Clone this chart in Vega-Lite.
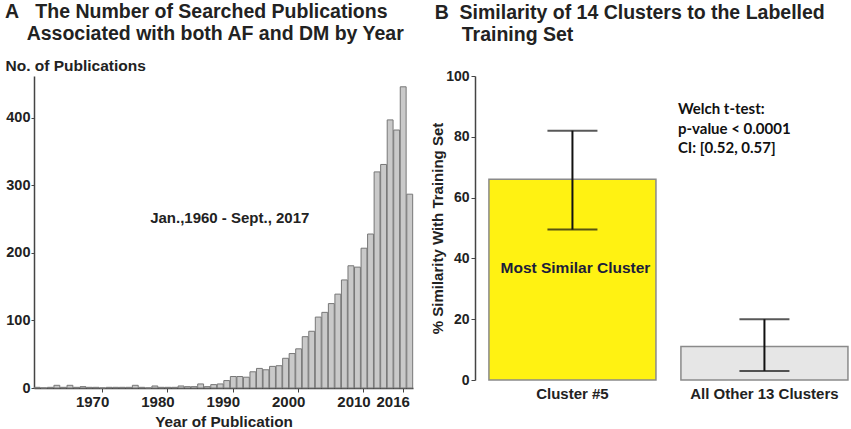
{
  "$schema": "https://vega.github.io/schema/vega-lite/v6.json",
  "padding": {"left": 5, "top": 2, "right": 2, "bottom": 2},
  "background": "white",
  "spacing": 16,
  "config": {
    "font": "Liberation Sans",
    "view": {"stroke": null},
    "axis": {"grid": false, "labelFont": "Liberation Sans", "titleFont": "Liberation Sans", "labelFontWeight": "bold", "labelColor": "#222222", "titleColor": "#222222", "titleFontWeight": "bold", "domainColor": "#444444", "tickColor": "#444444", "domainWidth": 1.5},
    "title": {"font": "Liberation Sans", "fontWeight": "bold", "color": "#222222", "anchor": "start", "fontSize": 19.5, "lineHeight": 21.5}
  },
  "hconcat": [
    {
      "width": 379,
      "height": 312,
      "title": {"text": ["A\u00a0\u00a0\u00a0The Number of Searched Publications", "\u200b\u00a0\u00a0\u00a0\u00a0Associated with both AF and DM by Year"], "frame": "bounds", "offset": 14},
      "layer": [
        {
          "data": {"values": [
            {"year": 1960, "count": 1}, {"year": 1961, "count": 0}, {"year": 1962, "count": 1}, {"year": 1963, "count": 4},
            {"year": 1964, "count": 1}, {"year": 1965, "count": 4}, {"year": 1966, "count": 1}, {"year": 1967, "count": 2},
            {"year": 1968, "count": 1}, {"year": 1969, "count": 1}, {"year": 1970, "count": 0}, {"year": 1971, "count": 1},
            {"year": 1972, "count": 1}, {"year": 1973, "count": 1}, {"year": 1974, "count": 1}, {"year": 1975, "count": 4},
            {"year": 1976, "count": 1}, {"year": 1977, "count": 0}, {"year": 1978, "count": 3}, {"year": 1979, "count": 1},
            {"year": 1980, "count": 1}, {"year": 1981, "count": 1}, {"year": 1982, "count": 3}, {"year": 1983, "count": 2},
            {"year": 1984, "count": 2}, {"year": 1985, "count": 6}, {"year": 1986, "count": 2}, {"year": 1987, "count": 5},
            {"year": 1988, "count": 6}, {"year": 1989, "count": 11}, {"year": 1990, "count": 17}, {"year": 1991, "count": 17},
            {"year": 1992, "count": 16}, {"year": 1993, "count": 24}, {"year": 1994, "count": 29}, {"year": 1995, "count": 27},
            {"year": 1996, "count": 32}, {"year": 1997, "count": 33}, {"year": 1998, "count": 44}, {"year": 1999, "count": 51},
            {"year": 2000, "count": 58}, {"year": 2001, "count": 76}, {"year": 2002, "count": 84}, {"year": 2003, "count": 105},
            {"year": 2004, "count": 112}, {"year": 2005, "count": 125}, {"year": 2006, "count": 139}, {"year": 2007, "count": 160},
            {"year": 2008, "count": 181}, {"year": 2009, "count": 179}, {"year": 2010, "count": 207}, {"year": 2011, "count": 228},
            {"year": 2012, "count": 320}, {"year": 2013, "count": 331}, {"year": 2014, "count": 397}, {"year": 2015, "count": 382},
            {"year": 2016, "count": 446}, {"year": 2017, "count": 287}
          ]},
          "mark": {"type": "bar", "fill": "#c9c9c9", "stroke": "#777777", "strokeWidth": 1},
          "encoding": {
            "x": {"field": "year", "type": "ordinal", "scale": {"paddingInner": 0.1, "paddingOuter": 0.05},
              "axis": {"title": "Year of Publication", "titleFontSize": 15.3, "labelFontSize": 15, "values": [1970, 1980, 1990, 2000, 2010, 2016], "labelAngle": 0, "tickSize": 4, "labelPadding": 2, "labelOffset": -10, "titlePadding": 5}},
            "y": {"field": "count", "type": "quantitative", "scale": {"domain": [0, 462], "nice": false},
              "axis": {"title": "No. of Publications", "titleAngle": 0, "titleAlign": "left", "titleBaseline": "middle", "titleX": -29, "titleY": -11, "titleFontSize": 15.5, "labelFontSize": 14.5, "values": [0, 100, 200, 300, 400], "tickSize": 3, "labelPadding": 1}}
          }
        },
        {
          "data": {"values": [{"year": 1989, "count": 252, "label": "Jan.,1960 - Sept., 2017"}]},
          "mark": {"type": "text", "fontWeight": "bold", "fontSize": 15, "color": "#222222", "dx": 3},
          "encoding": {
            "x": {"field": "year", "type": "ordinal"},
            "y": {"field": "count", "type": "quantitative"},
            "text": {"field": "label"}
          }
        }
      ]
    },
    {
      "width": 374,
      "height": 304,
      "title": {"text": ["B\u00a0\u00a0Similarity of 14 Clusters to the Labelled", "\u200b\u00a0\u00a0\u00a0\u00a0\u00a0Training Set"], "frame": "bounds", "offset": 24, "dx": 4},
      "encoding": {
        "x": {"field": "cluster", "type": "nominal", "sort": ["Cluster #5", "All Other 13 Clusters"], "scale": {"paddingInner": 0.13, "paddingOuter": 0.039, "align": 0.93},
          "axis": {"title": null, "labelAngle": 0, "domain": false, "ticks": false, "labelFontSize": 15, "labelPadding": 6}}
      },
      "layer": [
        {
          "data": {"name": "clusters", "values": [
            {"cluster": "Cluster #5", "mean": 66, "lo": 49.5, "hi": 82},
            {"cluster": "All Other 13 Clusters", "mean": 11, "lo": 3, "hi": 20}
          ]},
          "layer": [
            {
              "mark": {"type": "bar", "stroke": "#8a8a8a", "strokeWidth": 1.5},
              "encoding": {
                "y": {"field": "mean", "type": "quantitative", "scale": {"domain": [0, 100], "nice": false},
                  "axis": {"title": "% Similarity With Training Set", "titleFontSize": 15, "titlePadding": 0, "labelFontSize": 14, "values": [0, 20, 40, 60, 80, 100], "tickSize": 4, "labelPadding": 2}},
                "fill": {"field": "cluster", "type": "nominal", "scale": {"domain": ["Cluster #5", "All Other 13 Clusters"], "range": ["#FFF212", "#E6E6E6"]}, "legend": null}
              }
            },
            {
              "mark": {"type": "rule", "color": "#111111", "strokeWidth": 2},
              "encoding": {"y": {"field": "lo", "type": "quantitative"}, "y2": {"field": "hi"}}
            },
            {
              "mark": {"type": "tick", "color": "#111111", "size": 50, "thickness": 2},
              "encoding": {"y": {"field": "lo", "type": "quantitative"}}
            },
            {
              "mark": {"type": "tick", "color": "#111111", "size": 50, "thickness": 2},
              "encoding": {"y": {"field": "hi", "type": "quantitative"}}
            }
          ]
        },
        {
          "data": {"values": [{"cluster": "Cluster #5", "y": 37, "label": "Most Similar Cluster"}]},
          "mark": {"type": "text", "fontWeight": "bold", "fontSize": 15.5, "color": "#1c1c3a", "dx": 3},
          "encoding": {
            "y": {"field": "y", "type": "quantitative"},
            "text": {"field": "label"}
          }
        },
        {
          "data": {"values": [
            {"cluster": "All Other 13 Clusters", "y": 89, "label": "Welch t-test:"},
            {"cluster": "All Other 13 Clusters", "y": 82.5, "label": "p-value < 0.0001"},
            {"cluster": "All Other 13 Clusters", "y": 76.3, "label": "CI: [0.52, 0.57]"}
          ]},
          "mark": {"type": "text", "font": "Lato", "fontWeight": "bold", "fontSize": 15, "color": "#111111", "align": "left", "baseline": "middle", "dx": -3},
          "encoding": {
            "x": {"field": "cluster", "type": "nominal", "sort": ["Cluster #5", "All Other 13 Clusters"], "bandPosition": 0},
            "y": {"field": "y", "type": "quantitative"},
            "text": {"field": "label"}
          }
        }
      ]
    }
  ]
}
